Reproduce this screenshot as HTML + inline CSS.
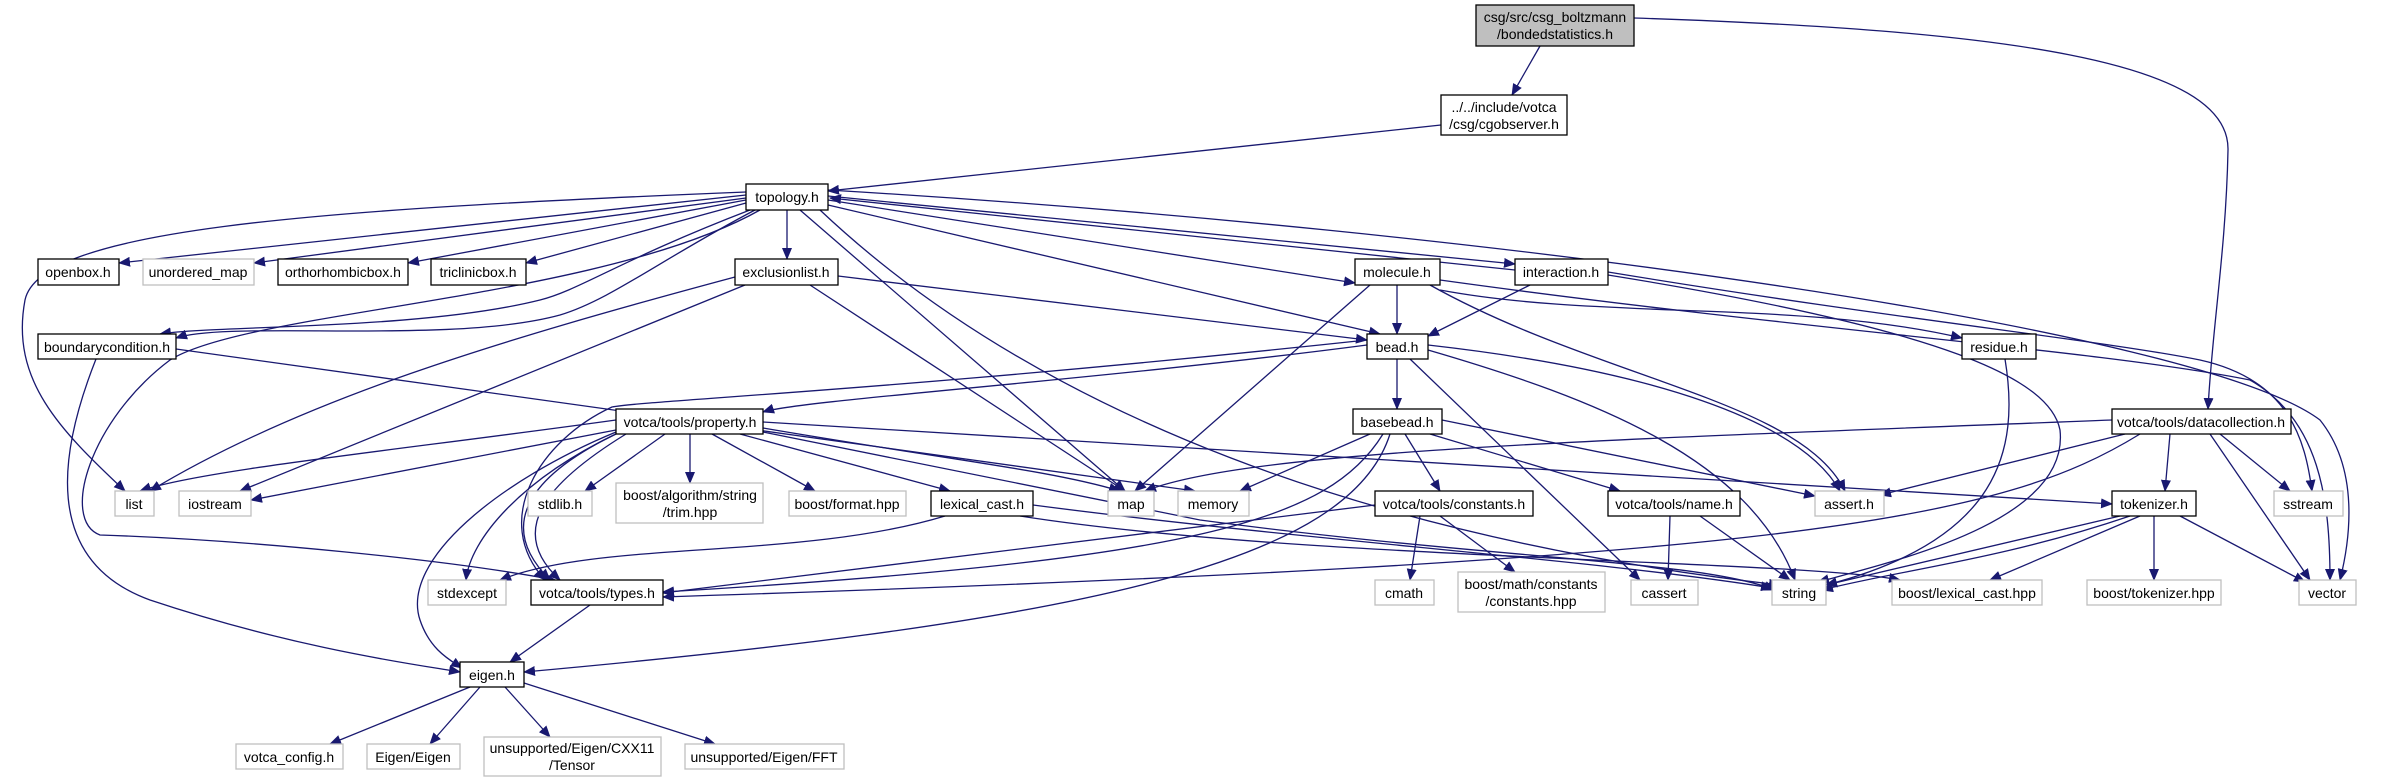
<!DOCTYPE html>
<html><head><meta charset="utf-8"><style>
html,body{margin:0;padding:0;background:#fff;}
svg{display:block;}
text{font-family:"Liberation Sans",Arial,sans-serif;font-size:14px;fill:#000;text-anchor:middle;}
.n{fill:#fff;stroke:#000;stroke-width:1.3;}
.g{fill:#fff;stroke:#bfbfbf;stroke-width:1.3;}
.e{fill:none;stroke:#191970;stroke-width:1.3;marker-end:url(#a);}
</style></head><body>
<svg width="2384" height="783" viewBox="0 0 2384 783" xmlns="http://www.w3.org/2000/svg">
<defs><marker id="a" markerWidth="12" markerHeight="10" refX="11" refY="5" orient="auto" markerUnits="userSpaceOnUse"><path d="M0,0 L12,5 L0,10 z" fill="#191970"/></marker></defs>
<g>
<path class="e" d="M1540,46 L1512,95"/>
<path class="e" d="M1634,18 C2000,30 2230,60 2228,150 C2226,250 2212,330 2208,409"/>
<path class="e" d="M1441,125 L828,191"/>
<path class="e" d="M746,195 L119,263"/>
<path class="e" d="M746,198 L254,263"/>
<path class="e" d="M746,200 L408,263"/>
<path class="e" d="M746,203 L526,263"/>
<path class="e" d="M746,192 C300,210 40,230 25,300 C10,380 60,430 125,491"/>
<path class="e" d="M750,210 C620,260 580,290 540,300 C420,330 220,325 160,334"/>
<path class="e" d="M755,210 C660,260 610,300 560,315 C450,345 230,320 176,338"/>
<path class="e" d="M760,210 C600,300 250,310 170,360 C90,420 60,520 100,535 C250,540 450,560 555,580"/>
<path class="e" d="M787,210 L787,259"/>
<path class="e" d="M800,210 L1125,491"/>
<path class="e" d="M828,200 L1355,283"/>
<path class="e" d="M828,205 L1380,334"/>
<path class="e" d="M828,196 L1515,264"/>
<path class="e" d="M1515,270 L830,198"/>
<path class="e" d="M828,190 C1500,230 2200,330 2320,420 C2360,470 2350,540 2340,580"/>
<path class="e" d="M820,210 C1000,380 1300,530 1780,585"/>
<path class="e" d="M735,277 C500,340 300,400 150,491"/>
<path class="e" d="M745,285 L240,491"/>
<path class="e" d="M810,285 L1125,491"/>
<path class="e" d="M838,276 L1367,340"/>
<path class="e" d="M96,359 C60,450 40,560 150,600 C300,650 420,665 460,672"/>
<path class="e" d="M176,349 L1195,491"/>
<path class="e" d="M1397,285 L1397,334"/>
<path class="e" d="M1370,285 L1135,491"/>
<path class="e" d="M1440,290 C1600,320 1800,300 1962,338"/>
<path class="e" d="M1430,285 C1600,380 1800,400 1845,491"/>
<path class="e" d="M1440,280 C1800,330 2100,350 2250,380 C2320,420 2330,500 2330,580"/>
<path class="e" d="M1530,285 L1428,336"/>
<path class="e" d="M1608,272 C1900,320 2100,340 2200,360 C2290,380 2305,440 2312,491"/>
<path class="e" d="M1608,275 C1950,330 2050,380 2060,430 C2070,520 1900,560 1818,582"/>
<path class="e" d="M2005,359 C2020,450 2000,540 1826,585"/>
<path class="e" d="M1367,345 C1100,380 800,400 763,412"/>
<path class="e" d="M1367,340 C900,390 650,400 612,407 C540,440 490,520 545,580"/>
<path class="e" d="M1397,359 L1397,409"/>
<path class="e" d="M1428,350 C1600,400 1750,460 1795,580"/>
<path class="e" d="M1428,345 C1650,370 1800,420 1840,491"/>
<path class="e" d="M1410,359 L1640,580"/>
<path class="e" d="M1370,434 L1240,491"/>
<path class="e" d="M1405,434 L1440,491"/>
<path class="e" d="M1430,434 L1620,491"/>
<path class="e" d="M1442,420 L1815,496"/>
<path class="e" d="M1383,434 C1330,520 1200,560 663,592"/>
<path class="e" d="M1390,434 C1350,560 1100,620 524,672"/>
<path class="e" d="M616,420 C400,450 200,470 140,491"/>
<path class="e" d="M616,430 L251,500"/>
<path class="e" d="M665,434 L585,491"/>
<path class="e" d="M690,434 L690,483"/>
<path class="e" d="M712,434 L815,491"/>
<path class="e" d="M740,434 L950,491"/>
<path class="e" d="M763,428 C950,460 1050,470 1120,491"/>
<path class="e" d="M763,422 L2112,504"/>
<path class="e" d="M620,432 C540,470 490,520 550,580"/>
<path class="e" d="M626,434 C548,482 505,530 560,580"/>
<path class="e" d="M616,434 C520,480 470,540 466,580"/>
<path class="e" d="M616,432 C500,480 400,560 420,620 C430,650 450,660 462,668"/>
<path class="e" d="M763,432 C1000,480 1100,500 1200,520 C1500,560 1700,560 1775,590"/>
<path class="e" d="M945,516 C800,560 600,540 500,580"/>
<path class="e" d="M1033,505 C1300,540 1600,560 1772,588"/>
<path class="e" d="M1020,516 C1300,560 1800,560 1900,580"/>
<path class="e" d="M1375,505 L663,593"/>
<path class="e" d="M1420,516 L1410,580"/>
<path class="e" d="M1440,516 L1515,572"/>
<path class="e" d="M1670,516 L1668,580"/>
<path class="e" d="M1700,516 L1790,580"/>
<path class="e" d="M2112,420 C1600,440 1250,450 1145,491"/>
<path class="e" d="M2125,434 L1880,495"/>
<path class="e" d="M2140,434 C2000,520 1800,560 663,597"/>
<path class="e" d="M2170,434 L2165,491"/>
<path class="e" d="M2210,434 L2310,580"/>
<path class="e" d="M2220,434 L2290,491"/>
<path class="e" d="M2120,516 L1826,585"/>
<path class="e" d="M2130,516 C2000,560 1900,570 1822,590"/>
<path class="e" d="M2140,516 L1990,580"/>
<path class="e" d="M2154,516 L2154,580"/>
<path class="e" d="M2180,516 L2305,582"/>
<path class="e" d="M590,605 L510,662"/>
<path class="e" d="M470,687 L330,744"/>
<path class="e" d="M480,687 L430,744"/>
<path class="e" d="M505,687 L550,737"/>
<path class="e" d="M524,683 L715,744"/>
</g>
<g>
<rect x="1476" y="5" width="158" height="41" fill="#bfbfbf" stroke="#000" stroke-width="1.3"/>
<text x="1555" y="22">csg/src/csg_boltzmann</text><text x="1555" y="39">/bondedstatistics.h</text>
<rect class="n" x="1441" y="95" width="126" height="40"/>
<text x="1504" y="112">../../include/votca</text><text x="1504" y="129">/csg/cgobserver.h</text>
<rect class="n" x="746" y="184" width="82" height="26"/><text x="787" y="202">topology.h</text>
<rect class="n" x="38" y="259" width="81" height="26"/><text x="78" y="277">openbox.h</text>
<rect class="g" x="143" y="259" width="111" height="26"/><text x="198" y="277">unordered_map</text>
<rect class="n" x="278" y="259" width="130" height="26"/><text x="343" y="277">orthorhombicbox.h</text>
<rect class="n" x="431" y="259" width="95" height="26"/><text x="478" y="277">triclinicbox.h</text>
<rect class="n" x="735" y="259" width="103" height="26"/><text x="786" y="277">exclusionlist.h</text>
<rect class="n" x="1355" y="259" width="85" height="26"/><text x="1397" y="277">molecule.h</text>
<rect class="n" x="1515" y="259" width="93" height="26"/><text x="1561" y="277">interaction.h</text>
<rect class="n" x="38" y="334" width="138" height="25"/><text x="107" y="352">boundarycondition.h</text>
<rect class="n" x="1367" y="334" width="61" height="25"/><text x="1397" y="352">bead.h</text>
<rect class="n" x="1962" y="334" width="74" height="25"/><text x="1999" y="352">residue.h</text>
<rect class="n" x="616" y="409" width="147" height="25"/><text x="690" y="427">votca/tools/property.h</text>
<rect class="n" x="1353" y="409" width="89" height="25"/><text x="1397" y="427">basebead.h</text>
<rect class="n" x="2112" y="409" width="179" height="25"/><text x="2201" y="427">votca/tools/datacollection.h</text>
<rect class="g" x="115" y="491" width="39" height="25"/><text x="134" y="509">list</text>
<rect class="g" x="179" y="491" width="72" height="25"/><text x="215" y="509">iostream</text>
<rect class="g" x="528" y="491" width="64" height="25"/><text x="560" y="509">stdlib.h</text>
<rect class="g" x="616" y="483" width="147" height="40"/><text x="690" y="500">boost/algorithm/string</text><text x="690" y="517">/trim.hpp</text>
<rect class="g" x="789" y="491" width="117" height="25"/><text x="847" y="509">boost/format.hpp</text>
<rect class="n" x="931" y="491" width="102" height="25"/><text x="982" y="509">lexical_cast.h</text>
<rect class="g" x="1108" y="491" width="46" height="25"/><text x="1131" y="509">map</text>
<rect class="g" x="1178" y="491" width="71" height="25"/><text x="1213" y="509">memory</text>
<rect class="n" x="1375" y="491" width="158" height="25"/><text x="1454" y="509">votca/tools/constants.h</text>
<rect class="n" x="1608" y="491" width="132" height="25"/><text x="1674" y="509">votca/tools/name.h</text>
<rect class="g" x="1815" y="491" width="69" height="25"/><text x="1849" y="509">assert.h</text>
<rect class="n" x="2112" y="491" width="84" height="25"/><text x="2154" y="509">tokenizer.h</text>
<rect class="g" x="2274" y="491" width="69" height="25"/><text x="2308" y="509">sstream</text>
<rect class="g" x="428" y="580" width="78" height="25"/><text x="467" y="598">stdexcept</text>
<rect class="n" x="531" y="580" width="132" height="25"/><text x="597" y="598">votca/tools/types.h</text>
<rect class="g" x="1375" y="580" width="59" height="25"/><text x="1404" y="598">cmath</text>
<rect class="g" x="1458" y="572" width="147" height="40"/><text x="1531" y="589">boost/math/constants</text><text x="1531" y="606">/constants.hpp</text>
<rect class="g" x="1631" y="580" width="67" height="25"/><text x="1664" y="598">cassert</text>
<rect class="g" x="1772" y="580" width="54" height="25"/><text x="1799" y="598">string</text>
<rect class="g" x="1892" y="580" width="150" height="25"/><text x="1967" y="598">boost/lexical_cast.hpp</text>
<rect class="g" x="2087" y="580" width="134" height="25"/><text x="2154" y="598">boost/tokenizer.hpp</text>
<rect class="g" x="2299" y="580" width="57" height="25"/><text x="2327" y="598">vector</text>
<rect class="n" x="460" y="662" width="64" height="25"/><text x="492" y="680">eigen.h</text>
<rect class="g" x="236" y="744" width="107" height="25"/><text x="289" y="762">votca_config.h</text>
<rect class="g" x="367" y="744" width="93" height="25"/><text x="413" y="762">Eigen/Eigen</text>
<rect class="g" x="484" y="737" width="177" height="39"/><text x="572" y="753">unsupported/Eigen/CXX11</text><text x="572" y="770">/Tensor</text>
<rect class="g" x="685" y="744" width="159" height="25"/><text x="764" y="762">unsupported/Eigen/FFT</text>
</g>
</svg>
</body></html>
